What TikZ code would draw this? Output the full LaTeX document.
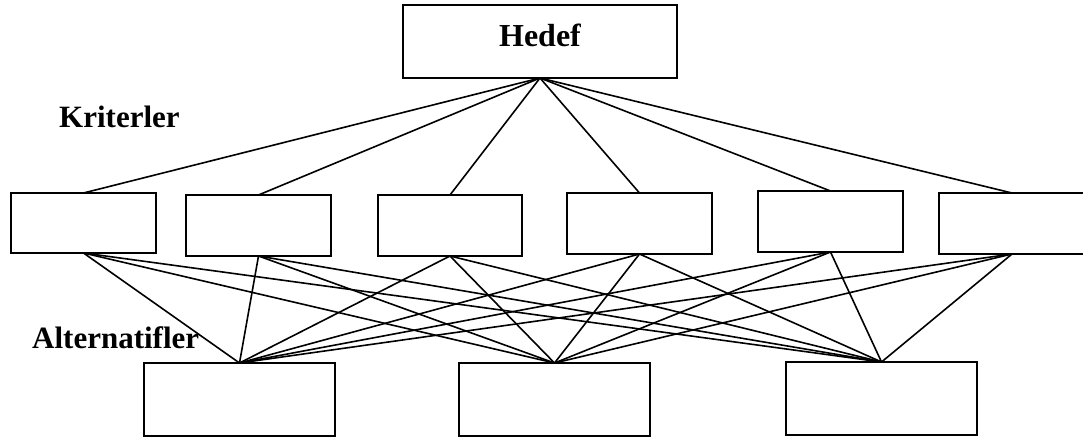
\documentclass[tikz,border=0pt]{standalone}
\usepackage{fontspec}
\setmainfont{Liberation Serif}
\begin{document}
\begin{tikzpicture}[x=1pt,y=-1pt,
  box/.style={draw=black,line width=2pt,fill=white,inner sep=0pt,outer sep=0pt,rectangle},
  conn/.style={draw=black,line width=1.6pt},
  lbl/.style={font=\bfseries\fontsize{31}{36}\selectfont,inner sep=0pt}]
\useasboundingbox (0,0) rectangle (1083,438);
% goal
\node[box,minimum width=274pt,minimum height=73pt] (h) at (540,41.5) {};
\node[font=\bfseries\fontsize{32}{36}\selectfont,inner sep=0pt,anchor=base] (ht) at (540,47) {Hedef};
% criteria
\node[box,minimum width=145pt,minimum height=60pt] (c1) at (83.5,223) {};
\node[box,minimum width=145pt,minimum height=61pt] (c2) at (258.5,225.5) {};
\node[box,minimum width=144pt,minimum height=61pt] (c3) at (450,225.5) {};
\node[box,minimum width=145pt,minimum height=61pt] (c4) at (639.5,223.5) {};
\node[box,minimum width=145pt,minimum height=61pt] (c5) at (830.5,221.5) {};
\node[box,minimum width=146pt,minimum height=61pt] (c6) at (1012,223.5) {};
% alternatives
\node[box,minimum width=191pt,minimum height=73pt] (a1) at (239.5,399.5) {};
\node[box,minimum width=191pt,minimum height=73pt] (a2) at (554.5,399.5) {};
\node[box,minimum width=191pt,minimum height=73pt] (a3) at (881.5,398.5) {};
% labels
\node[lbl,anchor=base west] (kr) at (59,128) {Kriterler};
\node[lbl,anchor=base west] (al) at (32,348) {Alternatifler};
% connectors
\foreach \c in {c1,c2,c3,c4,c5,c6}{
  \draw[conn] (h.south) -- (\c.north);
  \foreach \a in {a1,a2,a3}{
    \draw[conn] (\c.south) -- (\a.north);
  }
}
\end{tikzpicture}
\end{document}
